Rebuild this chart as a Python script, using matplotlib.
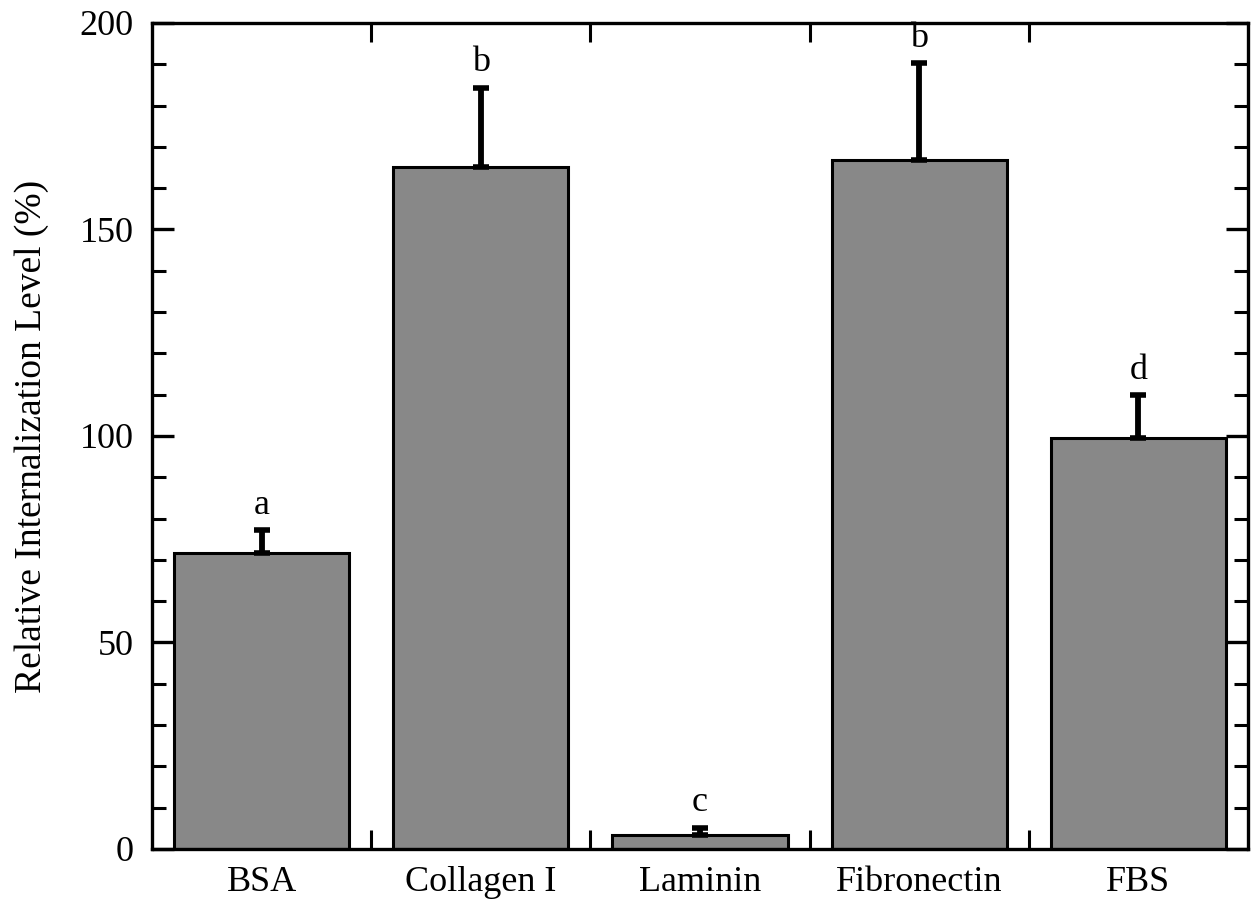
import matplotlib
matplotlib.use("Agg")
import matplotlib.pyplot as plt
import numpy as np
from matplotlib.ticker import MultipleLocator, FixedLocator

categories = ["BSA", "Collagen I", "Laminin", "Fibronectin", "FBS"]
values = [71.7, 165.1, 3.4, 166.8, 99.5]
errors = [5.5, 19.2, 1.8, 23.5, 10.4]
letters = ["a", "b", "c", "b", "d"]

plt.rcParams["font.family"] = ["Liberation Serif", "DejaVu Serif"]

fig = plt.figure(figsize=(12.53, 9.05), dpi=100)
ax = fig.add_axes([0.1213, 0.0619, 0.8747, 0.9127])

x = np.arange(len(categories))
ax.bar(x, values, width=0.8, color="#888888", edgecolor="black", linewidth=2.2, zorder=2)
ax.errorbar(x, values, yerr=[np.zeros(len(values)), errors], fmt="none",
            ecolor="black", elinewidth=4.2, capsize=5.5, capthick=4, zorder=3)

for xi, v, e, lab in zip(x, values, errors, letters):
    ax.annotate(lab, (xi, v + e), xytext=(0, 6), textcoords="offset points",
                ha="center", va="bottom", fontsize=26)

ax.set_xlim(-0.5, 4.5)
ax.set_ylim(0, 200)
ax.set_xticks(x)
ax.set_xticklabels(categories, fontsize=26)
ax.tick_params(axis="x", which="major", length=0, pad=12)
ax.xaxis.set_minor_locator(FixedLocator([0.5, 1.5, 2.5, 3.5]))
ax.tick_params(axis="x", which="minor", direction="in", length=14, width=2.2,
               top=True, bottom=True)

ax.yaxis.set_major_locator(MultipleLocator(50))
ax.yaxis.set_minor_locator(MultipleLocator(10))
ax.tick_params(axis="y", which="major", direction="in", length=16, width=2.4,
               left=True, right=True, labelsize=26, pad=13)
ax.tick_params(axis="y", which="minor", direction="in", length=10, width=2.2,
               left=True, right=True)

ax.set_ylabel("Relative Internalization Level (%)", fontsize=27, labelpad=22)

for s in ax.spines.values():
    s.set_linewidth(2.4)

fig.savefig("out.png", dpi=100)
